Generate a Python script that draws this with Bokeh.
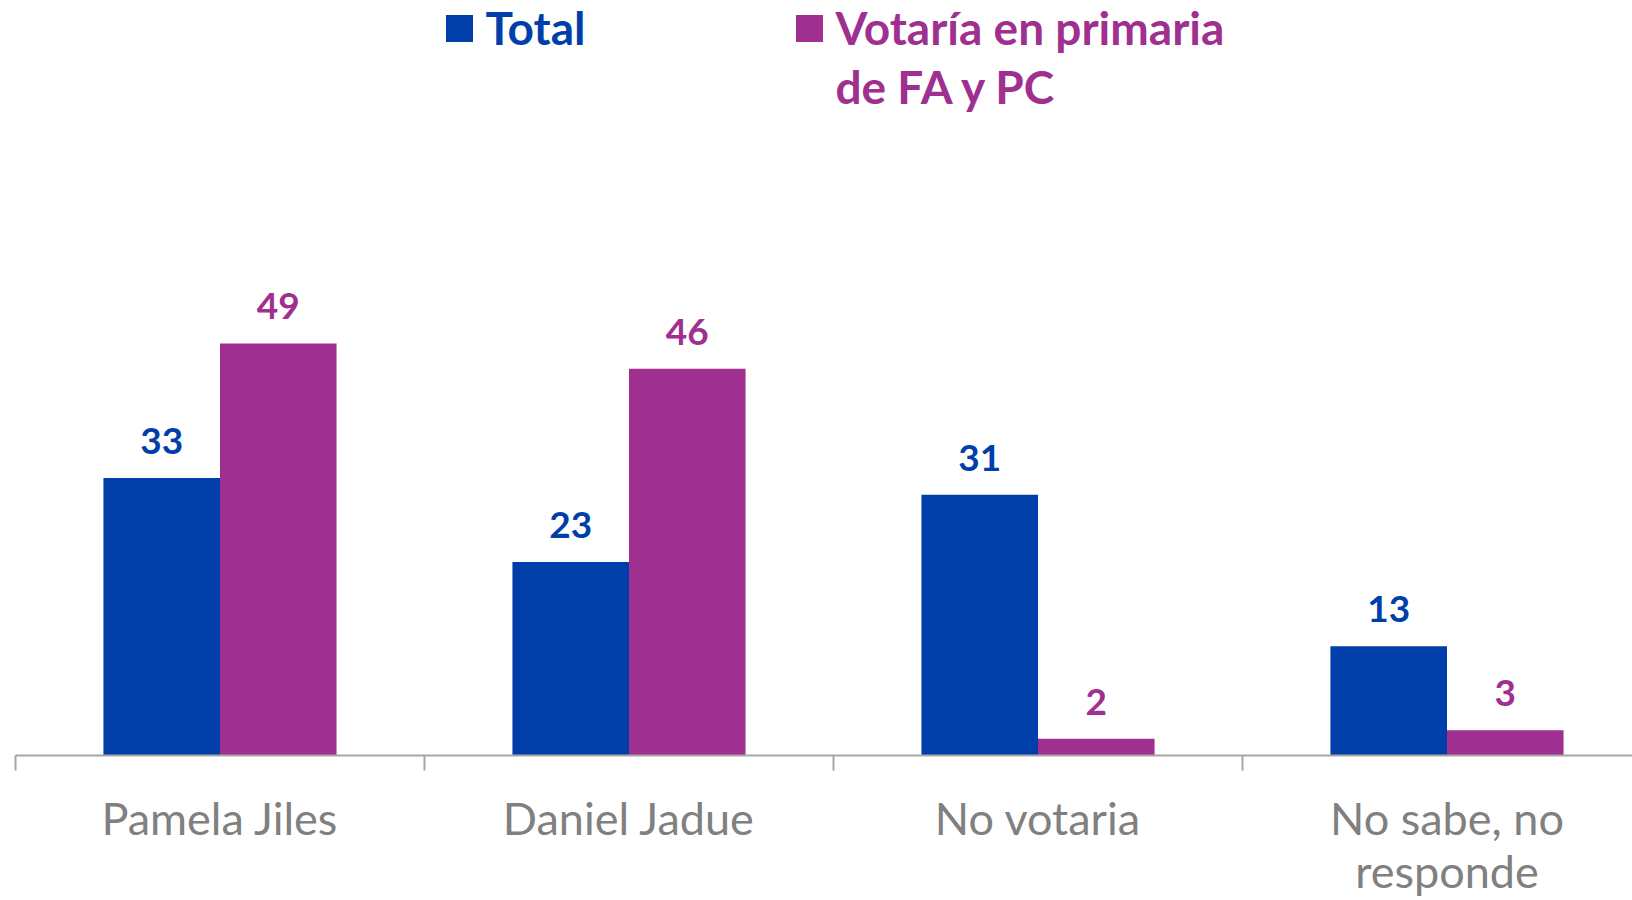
from bokeh.plotting import figure
from bokeh.models import Range1d, FixedTicker, ColumnDataSource
from bokeh.core.properties import value
from bokeh.embed import file_html
from bokeh.resources import INLINE
import numpy as np

categories = ["Pamela Jiles", "Daniel Jadue", "No votaria", "No sabe, no\nresponde"]
total = [33, 23, 31, 13]
votaria = [49, 46, 2, 3]
series_names = ["Total", "Votaría en primaria", "de FA y PC"]

BLUE = "#003FA9"
MAGENTA = "#A0308F"
GRAY = "#808080"
FONT = "Lato"

W, H = 1632, 900
LEFT = 15
FRAME_H = 756
PX_PER_CAT = 409.0
PX_PER_UNIT = 8.42
x_end = (W - LEFT) / PX_PER_CAT
y_end = FRAME_H / PX_PER_UNIT

p = figure(width=W, height=H, output_backend="svg", toolbar_location=None,
           x_range=Range1d(0, x_end), y_range=Range1d(0, y_end),
           min_border_left=LEFT, min_border_right=0, min_border_top=0,
           min_border_bottom=H - FRAME_H, y_axis_location=None)
p.outline_line_color = None
p.xgrid.visible = False
p.ygrid.visible = False
p.background_fill_color = "white"
p.border_fill_color = "white"

idx = np.arange(len(categories)) + 0.5
bw = 0.285
src = ColumnDataSource(dict(xt=idx - bw / 2, xv=idx + bw / 2, total=total, votaria=votaria,
                            lt=[str(v) for v in total], lv=[str(v) for v in votaria]))
p.vbar(x="xt", top="total", width=bw, source=src, fill_color=BLUE, line_color=None)
p.vbar(x="xv", top="votaria", width=bw, source=src, fill_color=MAGENTA, line_color=None)

p.text(x="xt", y="total", text="lt", source=src, text_color=BLUE, text_font=value(FONT),
       text_font_style="bold", text_font_size="37px", text_align="center",
       text_baseline="alphabetic", y_offset=-37)
p.text(x="xv", y="votaria", text="lv", source=src, text_color=MAGENTA, text_font=value(FONT),
       text_font_style="bold", text_font_size="37px", text_align="center",
       text_baseline="alphabetic", y_offset=-37)

ax = p.xaxis[0]
ax.ticker = FixedTicker(ticks=list(idx), minor_ticks=list(range(len(categories) + 1)))
ax.major_label_overrides = {float(t): c for t, c in zip(idx, categories)}
ax.axis_line_color = "#A6A6A6"
ax.axis_line_width = 2
ax.major_tick_out = 0
ax.major_tick_in = 0
ax.minor_tick_out = 15
ax.minor_tick_in = 0
ax.minor_tick_line_color = "#A6A6A6"
ax.minor_tick_line_width = 2
ax.major_label_text_font = FONT
ax.major_label_text_font_size = "45px"
ax.major_label_text_color = GRAY
ax.major_label_text_line_height = 0.99
ax.major_label_standoff = 20


def fx(px):
    return (px - LEFT) / PX_PER_CAT


def fy(py):
    return (FRAME_H - py) / PX_PER_UNIT


# legend (page pixel layout converted to data coordinates)
p.scatter(x=[fx(459), fx(809)], y=[fy(28.1), fy(28.1)], marker="square", size=27,
          fill_color=[BLUE, MAGENTA], line_color=None)
p.text(x=[fx(485)], y=[fy(27.5)], text=[series_names[0]], text_color=BLUE,
       text_font=value(FONT), text_font_style="bold", text_font_size="46px",
       text_baseline="alphabetic", text_align="left")
p.text(x=[fx(835), fx(835)], y=[fy(27.5), fy(86)], text=series_names[1:],
       text_color=MAGENTA, text_font=value(FONT), text_font_style="bold",
       text_font_size="46px", text_baseline="alphabetic", text_align="left")

open("out.html", "w").write(file_html(p, INLINE))
